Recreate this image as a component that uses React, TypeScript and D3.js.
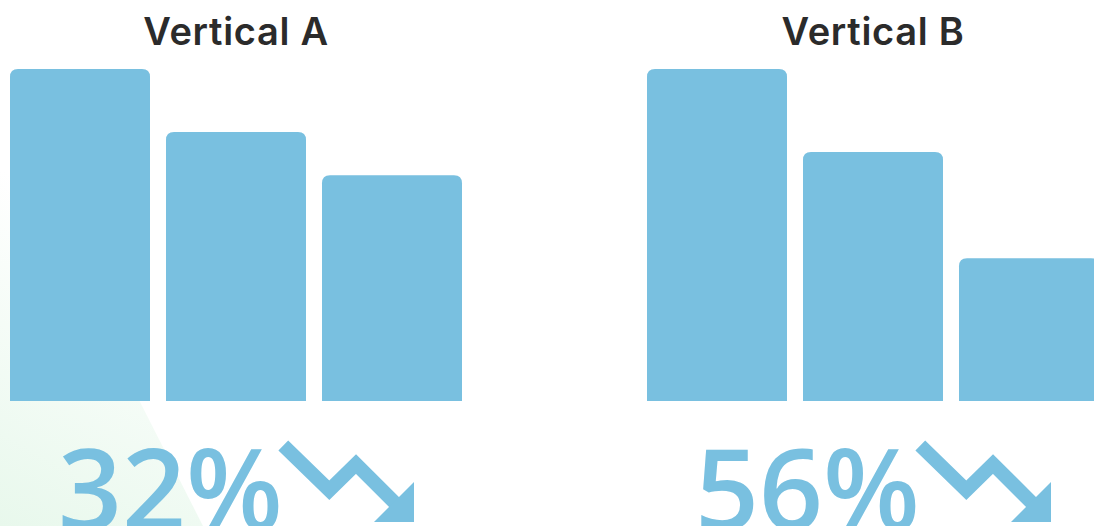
import React from "react";
import * as d3 from "d3";

const W = 1094;
const H = 526;

const panels = ["Vertical A", "Vertical B"];
const categories = ["1", "2", "3"];
const valuesA = [100, 81, 68];
const valuesB = [100, 75, 43];
const changeLabels = ["32%", "56%"];

const BAR = "#79c0e0";
const TITLE = "#2b2b2b";

const panelOffsets = [10, 647];
const panelWidth = 452;

function topRoundedRect(x: number, y: number, w: number, h: number, r: number) {
  const rr = Math.min(r, h, w / 2);
  return `M${x},${y + h}V${y + rr}Q${x},${y} ${x + rr},${y}H${x + w - rr}Q${x + w},${y} ${x + w},${y + rr}V${y + h}Z`;
}

export default function App() {
  const series = [valuesA, valuesB];
  const x = d3
    .scaleBand<string>()
    .domain(categories)
    .range([0, panelWidth])
    .paddingInner(16 / 156)
    .paddingOuter(0);
  const y = d3.scaleLinear().domain([0, 100]).range([401, 69]);

  const arrowLine = d3.line()([
    [273.3, 445.5],
    [319.3, 490.3],
    [346, 464],
    [388, 506],
  ]);
  const arrowHead = "M404,482L404,522L364,522Z";

  return (
    <svg
      width={W}
      height={H}
      style={{ position: "absolute", left: 0, top: 0, display: "block", background: "#fff" }}
    >
      <defs>
        <linearGradient id="glow" gradientUnits="userSpaceOnUse" x1={0} y1={526} x2={150} y2={250}>
          <stop offset="0" stopColor="#e8f8ec" stopOpacity={1} />
          <stop offset="1" stopColor="#ffffff" stopOpacity={1} />
        </linearGradient>
      </defs>
      <polygon points="0,526 203,526 2,130 0,130" fill="url(#glow)" />
      {panels.map((title, pi) => (
        <g key={title} transform={`translate(${panelOffsets[pi]},0)`}>
          <text
            x={panelWidth / 2}
            y={44.5}
            textAnchor="middle"
            fontFamily="Inter, sans-serif"
            fontWeight={600}
            fontSize={38}
            letterSpacing={0.7}
            fill={TITLE}
          >
            {title}
          </text>
          {series[pi].map((v, i) => (
            <path
              key={i}
              d={topRoundedRect(x(categories[i])!, y(v), x.bandwidth(), y(0) - y(v), 8)}
              fill={BAR}
            />
          ))}
          <text
            x={48}
            y={530}
            fontFamily="'Open Sans', sans-serif"
            fontWeight={600}
            fontSize={112}
            fill={BAR}
          >
            {changeLabels[pi]}
          </text>
          <path d={arrowLine!} fill="none" stroke={BAR} strokeWidth={14} strokeLinejoin="miter" />
          <path d={arrowHead} fill={BAR} />
        </g>
      ))}
    </svg>
  );
}
